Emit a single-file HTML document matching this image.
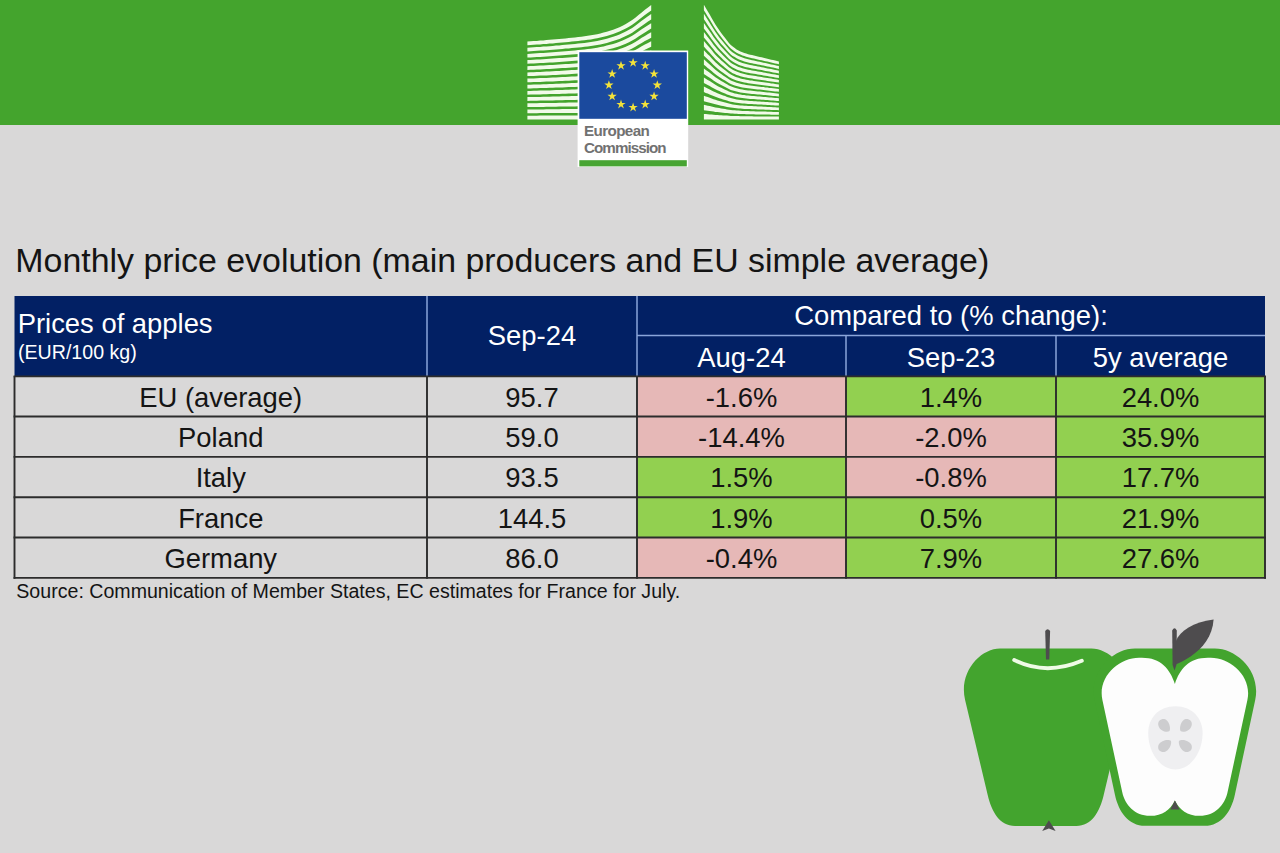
<!DOCTYPE html>
<html><head><meta charset="utf-8">
<style>
*{margin:0;padding:0;box-sizing:border-box}
html,body{width:1280px;height:853px;overflow:hidden;background:#d9d8d8;font-family:"Liberation Sans",sans-serif;color:#111}
.abs{position:absolute}
.t{position:absolute;white-space:nowrap;line-height:1;color:#141414}
</style></head><body>
<div class="abs" style="left:0;top:0;width:1280px;height:124.5px;background:#44a42d"></div>
<svg class="abs" style="left:0;top:0" width="1280" height="170" viewBox="0 0 1280 170">
<g fill="#f2fbe9"><path d="M527.4,41.5 L530.6,41.3 L533.7,41.1 L536.9,40.9 L540.1,40.6 L543.3,40.4 L546.4,40.1 L549.6,39.8 L552.8,39.6 L556.0,39.3 L559.1,39.0 L562.3,38.7 L565.5,38.4 L568.7,38.0 L571.8,37.7 L575.0,37.4 L578.2,37.0 L581.4,36.7 L584.5,36.3 L587.7,35.8 L590.9,35.3 L594.1,34.8 L597.2,34.2 L600.4,33.5 L603.6,32.6 L606.8,31.7 L609.9,30.7 L613.1,29.7 L616.3,28.5 L619.5,27.2 L622.6,25.7 L625.8,24.0 L629.0,22.1 L632.2,20.1 L635.3,17.7 L638.5,15.0 L641.7,12.4 L644.9,9.8 L648.0,7.4 L651.2,5.0 L651.2,10.4 L648.0,12.7 L644.9,15.0 L641.7,17.4 L638.5,20.0 L635.3,22.5 L632.2,24.8 L629.0,26.8 L625.8,28.5 L622.6,30.1 L619.5,31.6 L616.3,32.8 L613.1,33.9 L609.9,35.0 L606.8,35.9 L603.6,36.8 L600.4,37.5 L597.2,38.2 L594.1,38.8 L590.9,39.4 L587.7,39.8 L584.5,40.2 L581.4,40.6 L578.2,41.0 L575.0,41.3 L571.8,41.6 L568.7,41.9 L565.5,42.2 L562.3,42.5 L559.1,42.8 L556.0,43.1 L552.8,43.4 L549.6,43.6 L546.4,43.9 L543.3,44.1 L540.1,44.4 L536.9,44.6 L533.7,44.8 L530.6,45.0 L527.4,45.2Z"/><path d="M527.4,47.7 L530.6,47.5 L533.7,47.3 L536.9,47.1 L540.1,46.9 L543.3,46.6 L546.4,46.4 L549.6,46.2 L552.8,45.9 L556.0,45.6 L559.1,45.4 L562.3,45.1 L565.5,44.8 L568.7,44.5 L571.8,44.2 L575.0,43.9 L578.2,43.6 L581.4,43.2 L584.5,42.9 L587.7,42.5 L590.9,42.0 L594.1,41.5 L597.2,40.9 L600.4,40.3 L603.6,39.5 L606.8,38.7 L609.9,37.8 L613.1,36.8 L616.3,35.7 L619.5,34.5 L622.6,33.1 L625.8,31.5 L629.0,29.8 L632.2,28.0 L635.3,25.7 L638.5,23.3 L641.7,20.8 L644.9,18.5 L648.0,16.3 L651.2,14.1 L651.2,19.5 L648.0,21.6 L644.9,23.7 L641.7,25.9 L638.5,28.3 L635.3,30.6 L632.2,32.7 L629.0,34.5 L625.8,36.1 L622.6,37.6 L619.5,38.9 L616.3,40.1 L613.1,41.1 L609.9,42.0 L606.8,42.9 L603.6,43.7 L600.4,44.4 L597.2,45.0 L594.1,45.6 L590.9,46.0 L587.7,46.4 L584.5,46.8 L581.4,47.2 L578.2,47.5 L575.0,47.8 L571.8,48.1 L568.7,48.4 L565.5,48.6 L562.3,48.9 L559.1,49.2 L556.0,49.4 L552.8,49.7 L549.6,49.9 L546.4,50.2 L543.3,50.4 L540.1,50.6 L536.9,50.8 L533.7,51.0 L530.6,51.2 L527.4,51.4Z"/><path d="M527.4,53.9 L530.6,53.7 L533.7,53.5 L536.9,53.3 L540.1,53.1 L543.3,52.9 L546.4,52.7 L549.6,52.5 L552.8,52.2 L556.0,52.0 L559.1,51.7 L562.3,51.5 L565.5,51.2 L568.7,51.0 L571.8,50.7 L575.0,50.4 L578.2,50.1 L581.4,49.8 L584.5,49.5 L587.7,49.1 L590.9,48.7 L594.1,48.2 L597.2,47.7 L600.4,47.1 L603.6,46.4 L606.8,45.6 L609.9,44.8 L613.1,43.9 L616.3,42.9 L619.5,41.8 L622.6,40.5 L625.8,39.1 L629.0,37.6 L632.2,35.8 L635.3,33.8 L638.5,31.6 L641.7,29.3 L644.9,27.2 L648.0,25.2 L651.2,23.2 L651.2,28.6 L648.0,30.5 L644.9,32.4 L641.7,34.4 L638.5,36.6 L635.3,38.7 L632.2,40.6 L629.0,42.2 L625.8,43.7 L622.6,45.0 L619.5,46.2 L616.3,47.3 L613.1,48.2 L609.9,49.0 L606.8,49.8 L603.6,50.5 L600.4,51.2 L597.2,51.8 L594.1,52.3 L590.9,52.7 L587.7,53.1 L584.5,53.4 L581.4,53.7 L578.2,54.0 L575.0,54.3 L571.8,54.6 L568.7,54.8 L565.5,55.1 L562.3,55.3 L559.1,55.6 L556.0,55.8 L552.8,56.0 L549.6,56.3 L546.4,56.5 L543.3,56.7 L540.1,56.9 L536.9,57.1 L533.7,57.2 L530.6,57.4 L527.4,57.6Z"/><path d="M527.4,60.0 L530.6,59.9 L533.7,59.7 L536.9,59.6 L540.1,59.4 L543.3,59.2 L546.4,59.0 L549.6,58.8 L552.8,58.6 L556.0,58.3 L559.1,58.1 L562.3,57.9 L565.5,57.7 L568.7,57.4 L571.8,57.2 L575.0,56.9 L578.2,56.7 L581.4,56.4 L584.5,56.1 L587.7,55.7 L590.9,55.4 L594.1,55.0 L597.2,54.5 L600.4,53.9 L603.6,53.3 L606.8,52.6 L609.9,51.8 L613.1,51.0 L616.3,50.2 L619.5,49.1 L622.6,48.0 L625.8,46.7 L629.0,45.3 L632.2,43.7 L635.3,41.9 L638.5,39.9 L641.7,37.8 L644.9,35.9 L648.0,34.1 L651.2,32.2 L651.2,37.7 L648.0,39.4 L644.9,41.1 L641.7,42.9 L638.5,44.8 L635.3,46.7 L632.2,48.5 L629.0,49.9 L625.8,51.2 L622.6,52.4 L619.5,53.5 L616.3,54.5 L613.1,55.3 L609.9,56.1 L606.8,56.8 L603.6,57.4 L600.4,58.0 L597.2,58.5 L594.1,59.0 L590.9,59.4 L587.7,59.7 L584.5,60.0 L581.4,60.3 L578.2,60.6 L575.0,60.8 L571.8,61.1 L568.7,61.3 L565.5,61.5 L562.3,61.7 L559.1,62.0 L556.0,62.2 L552.8,62.4 L549.6,62.6 L546.4,62.8 L543.3,63.0 L540.1,63.1 L536.9,63.3 L533.7,63.5 L530.6,63.6 L527.4,63.8Z"/><path d="M527.4,66.2 L530.6,66.1 L533.7,65.9 L536.9,65.8 L540.1,65.6 L543.3,65.5 L546.4,65.3 L549.6,65.1 L552.8,64.9 L556.0,64.7 L559.1,64.5 L562.3,64.3 L565.5,64.1 L568.7,63.9 L571.8,63.7 L575.0,63.4 L578.2,63.2 L581.4,62.9 L584.5,62.7 L587.7,62.4 L590.9,62.0 L594.1,61.7 L597.2,61.2 L600.4,60.7 L603.6,60.2 L606.8,59.6 L609.9,58.9 L613.1,58.2 L616.3,57.4 L619.5,56.5 L622.6,55.4 L625.8,54.3 L629.0,53.0 L632.2,51.6 L635.3,50.0 L638.5,48.2 L641.7,46.3 L644.9,44.6 L648.0,42.9 L651.2,41.3 L651.2,46.8 L648.0,48.3 L644.9,49.8 L641.7,51.4 L638.5,53.1 L635.3,54.8 L632.2,56.3 L629.0,57.6 L625.8,58.8 L622.6,59.9 L619.5,60.9 L616.3,61.7 L613.1,62.4 L609.9,63.1 L606.8,63.7 L603.6,64.3 L600.4,64.8 L597.2,65.3 L594.1,65.7 L590.9,66.0 L587.7,66.3 L584.5,66.6 L581.4,66.9 L578.2,67.1 L575.0,67.3 L571.8,67.5 L568.7,67.7 L565.5,67.9 L562.3,68.1 L559.1,68.3 L556.0,68.5 L552.8,68.7 L549.6,68.9 L546.4,69.1 L543.3,69.2 L540.1,69.4 L536.9,69.5 L533.7,69.7 L530.6,69.8 L527.4,69.9Z"/><path d="M527.4,72.4 L530.6,72.3 L533.7,72.2 L536.9,72.0 L540.1,71.9 L543.3,71.7 L546.4,71.6 L549.6,71.4 L552.8,71.2 L556.0,71.1 L559.1,70.9 L562.3,70.7 L565.5,70.5 L568.7,70.3 L571.8,70.1 L575.0,69.9 L578.2,69.7 L581.4,69.5 L584.5,69.3 L587.7,69.0 L590.9,68.7 L594.1,68.4 L597.2,68.0 L600.4,67.6 L603.6,67.1 L606.8,66.5 L609.9,65.9 L613.1,65.3 L616.3,64.6 L619.5,63.8 L622.6,62.9 L625.8,61.8 L629.0,60.7 L632.2,59.5 L635.3,58.0 L638.5,56.4 L641.7,54.8 L644.9,53.3 L648.0,51.8 L651.2,50.4 L651.2,55.8 L648.0,57.2 L644.9,58.5 L641.7,59.9 L638.5,61.4 L635.3,62.9 L632.2,64.2 L629.0,65.4 L625.8,66.4 L622.6,67.3 L619.5,68.2 L616.3,68.9 L613.1,69.5 L609.9,70.1 L606.8,70.7 L603.6,71.2 L600.4,71.7 L597.2,72.1 L594.1,72.4 L590.9,72.7 L587.7,73.0 L584.5,73.2 L581.4,73.4 L578.2,73.6 L575.0,73.8 L571.8,74.0 L568.7,74.2 L565.5,74.4 L562.3,74.5 L559.1,74.7 L556.0,74.9 L552.8,75.0 L549.6,75.2 L546.4,75.4 L543.3,75.5 L540.1,75.6 L536.9,75.8 L533.7,75.9 L530.6,76.0 L527.4,76.1Z"/><path d="M527.4,78.6 L530.6,78.5 L533.7,78.4 L536.9,78.3 L540.1,78.1 L543.3,78.0 L546.4,77.9 L549.6,77.7 L552.8,77.6 L556.0,77.4 L559.1,77.3 L562.3,77.1 L565.5,76.9 L568.7,76.8 L571.8,76.6 L575.0,76.4 L578.2,76.3 L581.4,76.1 L584.5,75.9 L587.7,75.6 L590.9,75.4 L594.1,75.1 L597.2,74.8 L600.4,74.4 L603.6,74.0 L606.8,73.5 L609.9,73.0 L613.1,72.4 L616.3,71.8 L619.5,71.1 L622.6,70.3 L625.8,69.4 L629.0,68.4 L632.2,67.4 L635.3,66.1 L638.5,64.7 L641.7,63.3 L644.9,62.0 L648.0,60.7 L651.2,59.5 L651.2,64.9 L648.0,66.1 L644.9,67.2 L641.7,68.4 L638.5,69.7 L635.3,71.0 L632.2,72.1 L629.0,73.1 L625.8,74.0 L622.6,74.8 L619.5,75.5 L616.3,76.1 L613.1,76.7 L609.9,77.2 L606.8,77.7 L603.6,78.1 L600.4,78.5 L597.2,78.8 L594.1,79.1 L590.9,79.4 L587.7,79.6 L584.5,79.8 L581.4,80.0 L578.2,80.2 L575.0,80.3 L571.8,80.5 L568.7,80.7 L565.5,80.8 L562.3,81.0 L559.1,81.1 L556.0,81.2 L552.8,81.4 L549.6,81.5 L546.4,81.6 L543.3,81.8 L540.1,81.9 L536.9,82.0 L533.7,82.1 L530.6,82.2 L527.4,82.3Z"/><path d="M527.4,84.8 L530.6,84.7 L533.7,84.6 L536.9,84.5 L540.1,84.4 L543.3,84.3 L546.4,84.2 L549.6,84.0 L552.8,83.9 L556.0,83.8 L559.1,83.7 L562.3,83.5 L565.5,83.4 L568.7,83.2 L571.8,83.1 L575.0,83.0 L578.2,82.8 L581.4,82.6 L584.5,82.5 L587.7,82.3 L590.9,82.0 L594.1,81.8 L597.2,81.5 L600.4,81.2 L603.6,80.8 L606.8,80.4 L609.9,80.0 L613.1,79.5 L616.3,79.0 L619.5,78.4 L622.6,77.7 L625.8,77.0 L629.0,76.2 L632.2,75.3 L635.3,74.2 L638.5,73.0 L641.7,71.8 L644.9,70.7 L648.0,69.6 L651.2,68.6 L651.2,74.0 L648.0,75.0 L644.9,75.9 L641.7,76.9 L638.5,78.0 L635.3,79.0 L632.2,80.0 L629.0,80.8 L625.8,81.5 L622.6,82.2 L619.5,82.8 L616.3,83.3 L613.1,83.8 L609.9,84.2 L606.8,84.6 L603.6,85.0 L600.4,85.3 L597.2,85.6 L594.1,85.8 L590.9,86.0 L587.7,86.2 L584.5,86.4 L581.4,86.6 L578.2,86.7 L575.0,86.9 L571.8,87.0 L568.7,87.1 L565.5,87.2 L562.3,87.4 L559.1,87.5 L556.0,87.6 L552.8,87.7 L549.6,87.8 L546.4,87.9 L543.3,88.0 L540.1,88.1 L536.9,88.2 L533.7,88.3 L530.6,88.4 L527.4,88.5Z"/><path d="M527.4,91.0 L530.6,90.9 L533.7,90.8 L536.9,90.7 L540.1,90.6 L543.3,90.5 L546.4,90.5 L549.6,90.4 L552.8,90.3 L556.0,90.1 L559.1,90.0 L562.3,89.9 L565.5,89.8 L568.7,89.7 L571.8,89.6 L575.0,89.5 L578.2,89.3 L581.4,89.2 L584.5,89.1 L587.7,88.9 L590.9,88.7 L594.1,88.5 L597.2,88.3 L600.4,88.0 L603.6,87.7 L606.8,87.4 L609.9,87.0 L613.1,86.6 L616.3,86.2 L619.5,85.7 L622.6,85.2 L625.8,84.6 L629.0,83.9 L632.2,83.1 L635.3,82.3 L638.5,81.3 L641.7,80.3 L644.9,79.4 L648.0,78.5 L651.2,77.6 L651.2,83.1 L648.0,83.8 L644.9,84.6 L641.7,85.4 L638.5,86.3 L635.3,87.1 L632.2,87.9 L629.0,88.5 L625.8,89.1 L622.6,89.6 L619.5,90.1 L616.3,90.5 L613.1,90.9 L609.9,91.3 L606.8,91.6 L603.6,91.9 L600.4,92.1 L597.2,92.3 L594.1,92.5 L590.9,92.7 L587.7,92.9 L584.5,93.0 L581.4,93.1 L578.2,93.3 L575.0,93.4 L571.8,93.5 L568.7,93.6 L565.5,93.7 L562.3,93.8 L559.1,93.9 L556.0,94.0 L552.8,94.1 L549.6,94.1 L546.4,94.2 L543.3,94.3 L540.1,94.4 L536.9,94.5 L533.7,94.5 L530.6,94.6 L527.4,94.7Z"/><path d="M527.4,97.1 L530.6,97.1 L533.7,97.0 L536.9,97.0 L540.1,96.9 L543.3,96.8 L546.4,96.7 L549.6,96.7 L552.8,96.6 L556.0,96.5 L559.1,96.4 L562.3,96.3 L565.5,96.2 L568.7,96.2 L571.8,96.1 L575.0,96.0 L578.2,95.9 L581.4,95.8 L584.5,95.6 L587.7,95.5 L590.9,95.4 L594.1,95.2 L597.2,95.1 L600.4,94.8 L603.6,94.6 L606.8,94.4 L609.9,94.1 L613.1,93.8 L616.3,93.4 L619.5,93.1 L622.6,92.6 L625.8,92.1 L629.0,91.6 L632.2,91.0 L635.3,90.3 L638.5,89.6 L641.7,88.8 L644.9,88.1 L648.0,87.4 L651.2,86.7 L651.2,92.2 L648.0,92.7 L644.9,93.3 L641.7,93.9 L638.5,94.5 L635.3,95.2 L632.2,95.8 L629.0,96.2 L625.8,96.7 L622.6,97.1 L619.5,97.4 L616.3,97.8 L613.1,98.0 L609.9,98.3 L606.8,98.5 L603.6,98.7 L600.4,98.9 L597.2,99.1 L594.1,99.3 L590.9,99.4 L587.7,99.5 L584.5,99.6 L581.4,99.7 L578.2,99.8 L575.0,99.9 L571.8,100.0 L568.7,100.0 L565.5,100.1 L562.3,100.2 L559.1,100.3 L556.0,100.3 L552.8,100.4 L549.6,100.5 L546.4,100.5 L543.3,100.6 L540.1,100.6 L536.9,100.7 L533.7,100.8 L530.6,100.8 L527.4,100.9Z"/><path d="M527.4,103.3 L530.6,103.3 L533.7,103.2 L536.9,103.2 L540.1,103.1 L543.3,103.1 L546.4,103.0 L549.6,103.0 L552.8,102.9 L556.0,102.9 L559.1,102.8 L562.3,102.7 L565.5,102.7 L568.7,102.6 L571.8,102.5 L575.0,102.5 L578.2,102.4 L581.4,102.3 L584.5,102.2 L587.7,102.2 L590.9,102.1 L594.1,101.9 L597.2,101.8 L600.4,101.7 L603.6,101.5 L606.8,101.3 L609.9,101.1 L613.1,100.9 L616.3,100.6 L619.5,100.4 L622.6,100.1 L625.8,99.7 L629.0,99.3 L632.2,98.9 L635.3,98.4 L638.5,97.9 L641.7,97.3 L644.9,96.8 L648.0,96.3 L651.2,95.8 L651.2,101.2 L648.0,101.6 L644.9,102.0 L641.7,102.4 L638.5,102.8 L635.3,103.3 L632.2,103.6 L629.0,104.0 L625.8,104.3 L622.6,104.5 L619.5,104.8 L616.3,105.0 L613.1,105.2 L609.9,105.3 L606.8,105.5 L603.6,105.6 L600.4,105.8 L597.2,105.9 L594.1,106.0 L590.9,106.1 L587.7,106.1 L584.5,106.2 L581.4,106.3 L578.2,106.3 L575.0,106.4 L571.8,106.4 L568.7,106.5 L565.5,106.5 L562.3,106.6 L559.1,106.6 L556.0,106.7 L552.8,106.7 L549.6,106.8 L546.4,106.8 L543.3,106.9 L540.1,106.9 L536.9,106.9 L533.7,107.0 L530.6,107.0 L527.4,107.0Z"/><path d="M527.4,109.5 L530.6,109.5 L533.7,109.5 L536.9,109.4 L540.1,109.4 L543.3,109.4 L546.4,109.3 L549.6,109.3 L552.8,109.3 L556.0,109.2 L559.1,109.2 L562.3,109.1 L565.5,109.1 L568.7,109.1 L571.8,109.0 L575.0,109.0 L578.2,108.9 L581.4,108.9 L584.5,108.8 L587.7,108.8 L590.9,108.7 L594.1,108.7 L597.2,108.6 L600.4,108.5 L603.6,108.4 L606.8,108.3 L609.9,108.1 L613.1,108.0 L616.3,107.9 L619.5,107.7 L622.6,107.5 L625.8,107.3 L629.0,107.0 L632.2,106.8 L635.3,106.5 L638.5,106.1 L641.7,105.8 L644.9,105.5 L648.0,105.2 L651.2,104.9 L651.2,110.3 L648.0,110.5 L644.9,110.7 L641.7,110.9 L638.5,111.1 L635.3,111.3 L632.2,111.5 L629.0,111.7 L625.8,111.8 L622.6,112.0 L619.5,112.1 L616.3,112.2 L613.1,112.3 L609.9,112.4 L606.8,112.4 L603.6,112.5 L600.4,112.6 L597.2,112.6 L594.1,112.7 L590.9,112.7 L587.7,112.8 L584.5,112.8 L581.4,112.8 L578.2,112.9 L575.0,112.9 L571.8,112.9 L568.7,112.9 L565.5,113.0 L562.3,113.0 L559.1,113.0 L556.0,113.0 L552.8,113.1 L549.6,113.1 L546.4,113.1 L543.3,113.1 L540.1,113.1 L536.9,113.2 L533.7,113.2 L530.6,113.2 L527.4,113.2Z"/><path d="M527.4,115.7 L530.6,115.7 L533.7,115.7 L536.9,115.7 L540.1,115.6 L543.3,115.6 L546.4,115.6 L549.6,115.6 L552.8,115.6 L556.0,115.6 L559.1,115.6 L562.3,115.6 L565.5,115.5 L568.7,115.5 L571.8,115.5 L575.0,115.5 L578.2,115.5 L581.4,115.5 L584.5,115.4 L587.7,115.4 L590.9,115.4 L594.1,115.4 L597.2,115.3 L600.4,115.3 L603.6,115.3 L606.8,115.2 L609.9,115.2 L613.1,115.1 L616.3,115.1 L619.5,115.0 L622.6,114.9 L625.8,114.9 L629.0,114.8 L632.2,114.7 L635.3,114.6 L638.5,114.4 L641.7,114.3 L644.9,114.2 L648.0,114.1 L651.2,114.0 L651.2,119.4 L648.0,119.4 L644.9,119.4 L641.7,119.4 L638.5,119.4 L635.3,119.4 L632.2,119.4 L629.0,119.4 L625.8,119.4 L622.6,119.4 L619.5,119.4 L616.3,119.4 L613.1,119.4 L609.9,119.4 L606.8,119.4 L603.6,119.4 L600.4,119.4 L597.2,119.4 L594.1,119.4 L590.9,119.4 L587.7,119.4 L584.5,119.4 L581.4,119.4 L578.2,119.4 L575.0,119.4 L571.8,119.4 L568.7,119.4 L565.5,119.4 L562.3,119.4 L559.1,119.4 L556.0,119.4 L552.8,119.4 L549.6,119.4 L546.4,119.4 L543.3,119.4 L540.1,119.4 L536.9,119.4 L533.7,119.4 L530.6,119.4 L527.4,119.4Z"/><path d="M703.9,4.7 L705.8,8.0 L707.7,11.2 L709.7,14.5 L711.6,17.9 L713.5,21.3 L715.4,24.6 L717.4,27.5 L719.3,30.3 L721.2,32.9 L723.1,35.5 L725.1,38.0 L727.0,40.5 L728.9,42.9 L730.8,45.0 L732.7,46.6 L734.7,48.1 L736.6,49.4 L738.5,50.5 L740.4,51.4 L742.4,52.2 L744.3,53.0 L746.2,53.6 L748.1,54.2 L750.1,54.7 L752.0,55.1 L753.9,55.6 L755.8,56.0 L757.7,56.4 L759.7,56.9 L761.6,57.3 L763.5,57.8 L765.4,58.3 L767.4,58.7 L769.3,59.2 L771.2,59.7 L773.1,60.1 L775.1,60.6 L777.0,61.0 L778.9,61.5 L778.9,64.3 L777.0,63.8 L775.1,63.4 L773.1,62.9 L771.2,62.5 L769.3,62.1 L767.4,61.6 L765.4,61.2 L763.5,60.7 L761.6,60.3 L759.7,59.9 L757.7,59.4 L755.8,59.0 L753.9,58.6 L752.0,58.2 L750.1,57.8 L748.1,57.3 L746.2,56.7 L744.3,56.1 L742.4,55.4 L740.4,54.6 L738.5,53.7 L736.6,52.7 L734.7,51.5 L732.7,50.1 L730.8,48.5 L728.9,46.5 L727.0,44.3 L725.1,41.9 L723.1,39.5 L721.2,37.1 L719.3,34.6 L717.4,31.9 L715.4,29.1 L713.5,26.0 L711.6,22.7 L709.7,19.5 L707.7,16.4 L705.8,13.3 L703.9,10.2Z"/><path d="M703.9,13.8 L705.8,16.8 L707.7,19.8 L709.7,22.9 L711.6,26.0 L713.5,29.1 L715.4,32.1 L717.4,34.8 L719.3,37.4 L721.2,39.8 L723.1,42.1 L725.1,44.4 L727.0,46.8 L728.9,49.0 L730.8,50.9 L732.7,52.4 L734.7,53.7 L736.6,54.9 L738.5,55.9 L740.4,56.8 L742.4,57.6 L744.3,58.2 L746.2,58.8 L748.1,59.3 L750.1,59.8 L752.0,60.2 L753.9,60.6 L755.8,61.0 L757.7,61.4 L759.7,61.8 L761.6,62.3 L763.5,62.7 L765.4,63.1 L767.4,63.6 L769.3,64.0 L771.2,64.4 L773.1,64.8 L775.1,65.3 L777.0,65.7 L778.9,66.1 L778.9,68.9 L777.0,68.5 L775.1,68.1 L773.1,67.6 L771.2,67.2 L769.3,66.8 L767.4,66.4 L765.4,66.0 L763.5,65.6 L761.6,65.2 L759.7,64.8 L757.7,64.4 L755.8,64.1 L753.9,63.7 L752.0,63.3 L750.1,62.9 L748.1,62.4 L746.2,62.0 L744.3,61.4 L742.4,60.8 L740.4,60.0 L738.5,59.2 L736.6,58.3 L734.7,57.1 L732.7,55.9 L730.8,54.4 L728.9,52.6 L727.0,50.5 L725.1,48.3 L723.1,46.1 L721.2,43.9 L719.3,41.6 L717.4,39.2 L715.4,36.6 L713.5,33.8 L711.6,30.8 L709.7,27.9 L707.7,25.0 L705.8,22.1 L703.9,19.3Z"/><path d="M703.9,22.9 L705.8,25.7 L707.7,28.4 L709.7,31.2 L711.6,34.0 L713.5,36.9 L715.4,39.6 L717.4,42.1 L719.3,44.5 L721.2,46.7 L723.1,48.8 L725.1,50.9 L727.0,53.0 L728.9,55.0 L730.8,56.8 L732.7,58.2 L734.7,59.4 L736.6,60.5 L738.5,61.4 L740.4,62.2 L742.4,62.9 L744.3,63.5 L746.2,64.0 L748.1,64.5 L750.1,64.9 L752.0,65.3 L753.9,65.7 L755.8,66.1 L757.7,66.4 L759.7,66.8 L761.6,67.2 L763.5,67.6 L765.4,68.0 L767.4,68.4 L769.3,68.8 L771.2,69.1 L773.1,69.5 L775.1,69.9 L777.0,70.3 L778.9,70.7 L778.9,73.4 L777.0,73.1 L775.1,72.7 L773.1,72.4 L771.2,72.0 L769.3,71.6 L767.4,71.3 L765.4,70.9 L763.5,70.5 L761.6,70.1 L759.7,69.8 L757.7,69.4 L755.8,69.1 L753.9,68.8 L752.0,68.4 L750.1,68.0 L748.1,67.6 L746.2,67.2 L744.3,66.7 L742.4,66.1 L740.4,65.4 L738.5,64.7 L736.6,63.8 L734.7,62.8 L732.7,61.6 L730.8,60.3 L728.9,58.7 L727.0,56.8 L725.1,54.8 L723.1,52.8 L721.2,50.8 L719.3,48.7 L717.4,46.5 L715.4,44.1 L713.5,41.5 L711.6,38.9 L709.7,36.2 L707.7,33.6 L705.8,31.0 L703.9,28.4Z"/><path d="M703.9,32.0 L705.8,34.5 L707.7,37.0 L709.7,39.5 L711.6,42.1 L713.5,44.7 L715.4,47.1 L717.4,49.4 L719.3,51.5 L721.2,53.5 L723.1,55.5 L725.1,57.4 L727.0,59.3 L728.9,61.1 L730.8,62.7 L732.7,64.0 L734.7,65.1 L736.6,66.0 L738.5,66.9 L740.4,67.6 L742.4,68.2 L744.3,68.8 L746.2,69.3 L748.1,69.7 L750.1,70.1 L752.0,70.4 L753.9,70.8 L755.8,71.1 L757.7,71.4 L759.7,71.8 L761.6,72.1 L763.5,72.5 L765.4,72.8 L767.4,73.2 L769.3,73.5 L771.2,73.9 L773.1,74.2 L775.1,74.6 L777.0,74.9 L778.9,75.3 L778.9,78.0 L777.0,77.7 L775.1,77.4 L773.1,77.1 L771.2,76.7 L769.3,76.4 L767.4,76.1 L765.4,75.7 L763.5,75.4 L761.6,75.1 L759.7,74.7 L757.7,74.4 L755.8,74.1 L753.9,73.8 L752.0,73.5 L750.1,73.2 L748.1,72.8 L746.2,72.4 L744.3,71.9 L742.4,71.4 L740.4,70.8 L738.5,70.2 L736.6,69.4 L734.7,68.5 L732.7,67.4 L730.8,66.2 L728.9,64.8 L727.0,63.0 L725.1,61.2 L723.1,59.5 L721.2,57.6 L719.3,55.8 L717.4,53.8 L715.4,51.7 L713.5,49.3 L711.6,46.9 L709.7,44.5 L707.7,42.1 L705.8,39.8 L703.9,37.5Z"/><path d="M703.9,41.1 L705.8,43.3 L707.7,45.6 L709.7,47.8 L711.6,50.1 L713.5,52.4 L715.4,54.7 L717.4,56.7 L719.3,58.6 L721.2,60.4 L723.1,62.1 L725.1,63.8 L727.0,65.5 L728.9,67.2 L730.8,68.6 L732.7,69.7 L734.7,70.7 L736.6,71.6 L738.5,72.3 L740.4,73.0 L742.4,73.6 L744.3,74.1 L746.2,74.5 L748.1,74.9 L750.1,75.2 L752.0,75.5 L753.9,75.8 L755.8,76.1 L757.7,76.4 L759.7,76.7 L761.6,77.0 L763.5,77.4 L765.4,77.7 L767.4,78.0 L769.3,78.3 L771.2,78.6 L773.1,78.9 L775.1,79.3 L777.0,79.6 L778.9,79.9 L778.9,82.6 L777.0,82.3 L775.1,82.1 L773.1,81.8 L771.2,81.5 L769.3,81.2 L767.4,80.9 L765.4,80.6 L763.5,80.3 L761.6,80.0 L759.7,79.7 L757.7,79.4 L755.8,79.2 L753.9,78.9 L752.0,78.6 L750.1,78.3 L748.1,78.0 L746.2,77.6 L744.3,77.2 L742.4,76.8 L740.4,76.2 L738.5,75.6 L736.6,74.9 L734.7,74.1 L732.7,73.2 L730.8,72.1 L728.9,70.8 L727.0,69.3 L725.1,67.7 L723.1,66.1 L721.2,64.5 L719.3,62.8 L717.4,61.1 L715.4,59.2 L713.5,57.1 L711.6,55.0 L709.7,52.8 L707.7,50.7 L705.8,48.7 L703.9,46.6Z"/><path d="M703.9,50.2 L705.8,52.2 L707.7,54.2 L709.7,56.1 L711.6,58.2 L713.5,60.2 L715.4,62.2 L717.4,64.0 L719.3,65.7 L721.2,67.3 L723.1,68.8 L725.1,70.3 L727.0,71.8 L728.9,73.3 L730.8,74.5 L732.7,75.5 L734.7,76.4 L736.6,77.2 L738.5,77.8 L740.4,78.4 L742.4,78.9 L744.3,79.3 L746.2,79.7 L748.1,80.0 L750.1,80.4 L752.0,80.6 L753.9,80.9 L755.8,81.2 L757.7,81.4 L759.7,81.7 L761.6,82.0 L763.5,82.2 L765.4,82.5 L767.4,82.8 L769.3,83.1 L771.2,83.4 L773.1,83.6 L775.1,83.9 L777.0,84.2 L778.9,84.5 L778.9,87.2 L777.0,87.0 L775.1,86.7 L773.1,86.5 L771.2,86.2 L769.3,86.0 L767.4,85.7 L765.4,85.4 L763.5,85.2 L761.6,84.9 L759.7,84.7 L757.7,84.4 L755.8,84.2 L753.9,83.9 L752.0,83.7 L750.1,83.4 L748.1,83.2 L746.2,82.8 L744.3,82.5 L742.4,82.1 L740.4,81.6 L738.5,81.1 L736.6,80.5 L734.7,79.8 L732.7,79.0 L730.8,78.0 L728.9,76.9 L727.0,75.6 L725.1,74.2 L723.1,72.8 L721.2,71.4 L719.3,69.9 L717.4,68.4 L715.4,66.7 L713.5,64.9 L711.6,63.0 L709.7,61.1 L707.7,59.3 L705.8,57.5 L703.9,55.7Z"/><path d="M703.9,59.3 L705.8,61.0 L707.7,62.7 L709.7,64.5 L711.6,66.2 L713.5,68.0 L715.4,69.7 L717.4,71.3 L719.3,72.7 L721.2,74.1 L723.1,75.4 L725.1,76.7 L727.0,78.1 L728.9,79.3 L730.8,80.4 L732.7,81.3 L734.7,82.0 L736.6,82.7 L738.5,83.3 L740.4,83.8 L742.4,84.2 L744.3,84.6 L746.2,84.9 L748.1,85.2 L750.1,85.5 L752.0,85.7 L753.9,86.0 L755.8,86.2 L757.7,86.4 L759.7,86.7 L761.6,86.9 L763.5,87.1 L765.4,87.4 L767.4,87.6 L769.3,87.9 L771.2,88.1 L773.1,88.3 L775.1,88.6 L777.0,88.8 L778.9,89.1 L778.9,91.8 L777.0,91.6 L775.1,91.4 L773.1,91.2 L771.2,91.0 L769.3,90.7 L767.4,90.5 L765.4,90.3 L763.5,90.1 L761.6,89.8 L759.7,89.6 L757.7,89.4 L755.8,89.2 L753.9,89.0 L752.0,88.8 L750.1,88.6 L748.1,88.3 L746.2,88.1 L744.3,87.8 L742.4,87.4 L740.4,87.0 L738.5,86.6 L736.6,86.0 L734.7,85.4 L732.7,84.7 L730.8,84.0 L728.9,83.0 L727.0,81.8 L725.1,80.6 L723.1,79.4 L721.2,78.2 L719.3,77.0 L717.4,75.7 L715.4,74.2 L713.5,72.7 L711.6,71.1 L709.7,69.5 L707.7,67.9 L705.8,66.3 L703.9,64.8Z"/><path d="M703.9,68.4 L705.8,69.9 L707.7,71.3 L709.7,72.8 L711.6,74.3 L713.5,75.8 L715.4,77.2 L717.4,78.6 L719.3,79.8 L721.2,81.0 L723.1,82.1 L725.1,83.2 L727.0,84.3 L728.9,85.4 L730.8,86.3 L732.7,87.1 L734.7,87.7 L736.6,88.3 L738.5,88.8 L740.4,89.2 L742.4,89.5 L744.3,89.9 L746.2,90.2 L748.1,90.4 L750.1,90.6 L752.0,90.8 L753.9,91.0 L755.8,91.2 L757.7,91.4 L759.7,91.6 L761.6,91.8 L763.5,92.0 L765.4,92.2 L767.4,92.4 L769.3,92.6 L771.2,92.8 L773.1,93.1 L775.1,93.3 L777.0,93.5 L778.9,93.7 L778.9,96.4 L777.0,96.2 L775.1,96.1 L773.1,95.9 L771.2,95.7 L769.3,95.5 L767.4,95.3 L765.4,95.1 L763.5,95.0 L761.6,94.8 L759.7,94.6 L757.7,94.4 L755.8,94.2 L753.9,94.1 L752.0,93.9 L750.1,93.7 L748.1,93.5 L746.2,93.3 L744.3,93.0 L742.4,92.7 L740.4,92.4 L738.5,92.0 L736.6,91.6 L734.7,91.1 L732.7,90.5 L730.8,89.9 L728.9,89.0 L727.0,88.1 L725.1,87.1 L723.1,86.1 L721.2,85.1 L719.3,84.1 L717.4,83.0 L715.4,81.8 L713.5,80.5 L711.6,79.1 L709.7,77.8 L707.7,76.5 L705.8,75.2 L703.9,73.9Z"/><path d="M703.9,77.5 L705.8,78.7 L707.7,79.9 L709.7,81.1 L711.6,82.3 L713.5,83.6 L715.4,84.8 L717.4,85.9 L719.3,86.9 L721.2,87.8 L723.1,88.8 L725.1,89.7 L727.0,90.6 L728.9,91.5 L730.8,92.2 L732.7,92.8 L734.7,93.4 L736.6,93.8 L738.5,94.2 L740.4,94.6 L742.4,94.9 L744.3,95.1 L746.2,95.4 L748.1,95.6 L750.1,95.8 L752.0,95.9 L753.9,96.1 L755.8,96.3 L757.7,96.4 L759.7,96.6 L761.6,96.7 L763.5,96.9 L765.4,97.1 L767.4,97.3 L769.3,97.4 L771.2,97.6 L773.1,97.8 L775.1,97.9 L777.0,98.1 L778.9,98.3 L778.9,101.0 L777.0,100.9 L775.1,100.7 L773.1,100.6 L771.2,100.4 L769.3,100.3 L767.4,100.1 L765.4,100.0 L763.5,99.8 L761.6,99.7 L759.7,99.6 L757.7,99.4 L755.8,99.3 L753.9,99.1 L752.0,99.0 L750.1,98.9 L748.1,98.7 L746.2,98.5 L744.3,98.3 L742.4,98.1 L740.4,97.8 L738.5,97.5 L736.6,97.2 L734.7,96.8 L732.7,96.3 L730.8,95.8 L728.9,95.1 L727.0,94.4 L725.1,93.6 L723.1,92.8 L721.2,92.0 L719.3,91.1 L717.4,90.2 L715.4,89.3 L713.5,88.3 L711.6,87.2 L709.7,86.1 L707.7,85.1 L705.8,84.0 L703.9,83.0Z"/><path d="M703.9,86.6 L705.8,87.6 L707.7,88.5 L709.7,89.4 L711.6,90.4 L713.5,91.4 L715.4,92.3 L717.4,93.2 L719.3,93.9 L721.2,94.7 L723.1,95.4 L725.1,96.1 L727.0,96.9 L728.9,97.5 L730.8,98.1 L732.7,98.6 L734.7,99.0 L736.6,99.4 L738.5,99.7 L740.4,100.0 L742.4,100.2 L744.3,100.4 L746.2,100.6 L748.1,100.8 L750.1,100.9 L752.0,101.0 L753.9,101.2 L755.8,101.3 L757.7,101.4 L759.7,101.5 L761.6,101.7 L763.5,101.8 L765.4,101.9 L767.4,102.1 L769.3,102.2 L771.2,102.3 L773.1,102.5 L775.1,102.6 L777.0,102.7 L778.9,102.9 L778.9,105.6 L777.0,105.5 L775.1,105.4 L773.1,105.3 L771.2,105.2 L769.3,105.1 L767.4,105.0 L765.4,104.8 L763.5,104.7 L761.6,104.6 L759.7,104.5 L757.7,104.4 L755.8,104.3 L753.9,104.2 L752.0,104.1 L750.1,104.0 L748.1,103.9 L746.2,103.7 L744.3,103.6 L742.4,103.4 L740.4,103.2 L738.5,103.0 L736.6,102.7 L734.7,102.4 L732.7,102.1 L730.8,101.7 L728.9,101.2 L727.0,100.6 L725.1,100.0 L723.1,99.4 L721.2,98.8 L719.3,98.2 L717.4,97.5 L715.4,96.8 L713.5,96.0 L711.6,95.2 L709.7,94.4 L707.7,93.6 L705.8,92.9 L703.9,92.1Z"/><path d="M703.9,95.7 L705.8,96.4 L707.7,97.1 L709.7,97.8 L711.6,98.5 L713.5,99.2 L715.4,99.8 L717.4,100.4 L719.3,101.0 L721.2,101.6 L723.1,102.1 L725.1,102.6 L727.0,103.1 L728.9,103.6 L730.8,104.0 L732.7,104.4 L734.7,104.7 L736.6,104.9 L738.5,105.2 L740.4,105.4 L742.4,105.5 L744.3,105.7 L746.2,105.8 L748.1,105.9 L750.1,106.0 L752.0,106.1 L753.9,106.2 L755.8,106.3 L757.7,106.4 L759.7,106.5 L761.6,106.6 L763.5,106.7 L765.4,106.8 L767.4,106.9 L769.3,107.0 L771.2,107.1 L773.1,107.2 L775.1,107.3 L777.0,107.4 L778.9,107.5 L778.9,110.2 L777.0,110.1 L775.1,110.1 L773.1,110.0 L771.2,109.9 L769.3,109.8 L767.4,109.8 L765.4,109.7 L763.5,109.6 L761.6,109.5 L759.7,109.5 L757.7,109.4 L755.8,109.3 L753.9,109.3 L752.0,109.2 L750.1,109.1 L748.1,109.0 L746.2,109.0 L744.3,108.9 L742.4,108.7 L740.4,108.6 L738.5,108.5 L736.6,108.3 L734.7,108.1 L732.7,107.8 L730.8,107.6 L728.9,107.3 L727.0,106.9 L725.1,106.5 L723.1,106.1 L721.2,105.7 L719.3,105.3 L717.4,104.8 L715.4,104.3 L713.5,103.8 L711.6,103.3 L709.7,102.8 L707.7,102.2 L705.8,101.7 L703.9,101.2Z"/><path d="M703.9,104.8 L705.8,105.3 L707.7,105.7 L709.7,106.1 L711.6,106.5 L713.5,106.9 L715.4,107.4 L717.4,107.7 L719.3,108.1 L721.2,108.4 L723.1,108.7 L725.1,109.1 L727.0,109.4 L728.9,109.7 L730.8,109.9 L732.7,110.2 L734.7,110.3 L736.6,110.5 L738.5,110.6 L740.4,110.8 L742.4,110.9 L744.3,111.0 L746.2,111.0 L748.1,111.1 L750.1,111.2 L752.0,111.2 L753.9,111.3 L755.8,111.4 L757.7,111.4 L759.7,111.5 L761.6,111.5 L763.5,111.6 L765.4,111.6 L767.4,111.7 L769.3,111.8 L771.2,111.8 L773.1,111.9 L775.1,111.9 L777.0,112.0 L778.9,112.0 L778.9,114.8 L777.0,114.8 L775.1,114.7 L773.1,114.7 L771.2,114.7 L769.3,114.6 L767.4,114.6 L765.4,114.5 L763.5,114.5 L761.6,114.5 L759.7,114.4 L757.7,114.4 L755.8,114.4 L753.9,114.3 L752.0,114.3 L750.1,114.3 L748.1,114.2 L746.2,114.2 L744.3,114.1 L742.4,114.1 L740.4,114.0 L738.5,113.9 L736.6,113.8 L734.7,113.7 L732.7,113.6 L730.8,113.5 L728.9,113.3 L727.0,113.1 L725.1,112.9 L723.1,112.7 L721.2,112.5 L719.3,112.3 L717.4,112.1 L715.4,111.9 L713.5,111.6 L711.6,111.3 L709.7,111.1 L707.7,110.8 L705.8,110.6 L703.9,110.3Z"/><path d="M703.9,113.9 L705.8,114.1 L707.7,114.2 L709.7,114.4 L711.6,114.6 L713.5,114.7 L715.4,114.9 L717.4,115.0 L719.3,115.2 L721.2,115.3 L723.1,115.4 L725.1,115.5 L727.0,115.6 L728.9,115.8 L730.8,115.9 L732.7,115.9 L734.7,116.0 L736.6,116.1 L738.5,116.1 L740.4,116.2 L742.4,116.2 L744.3,116.2 L746.2,116.3 L748.1,116.3 L750.1,116.3 L752.0,116.3 L753.9,116.4 L755.8,116.4 L757.7,116.4 L759.7,116.4 L761.6,116.4 L763.5,116.5 L765.4,116.5 L767.4,116.5 L769.3,116.5 L771.2,116.6 L773.1,116.6 L775.1,116.6 L777.0,116.6 L778.9,116.6 L778.9,119.4 L777.0,119.4 L775.1,119.4 L773.1,119.4 L771.2,119.4 L769.3,119.4 L767.4,119.4 L765.4,119.4 L763.5,119.4 L761.6,119.4 L759.7,119.4 L757.7,119.4 L755.8,119.4 L753.9,119.4 L752.0,119.4 L750.1,119.4 L748.1,119.4 L746.2,119.4 L744.3,119.4 L742.4,119.4 L740.4,119.4 L738.5,119.4 L736.6,119.4 L734.7,119.4 L732.7,119.4 L730.8,119.4 L728.9,119.4 L727.0,119.4 L725.1,119.4 L723.1,119.4 L721.2,119.4 L719.3,119.4 L717.4,119.4 L715.4,119.4 L713.5,119.4 L711.6,119.4 L709.7,119.4 L707.7,119.4 L705.8,119.4 L703.9,119.4Z"/></g>
<rect x="577.6" y="50.5" width="110.6" height="116.5" fill="#ffffff"/>
<rect x="579.3" y="52.2" width="107.5" height="66.6" fill="#1b4a9e"/>
<g fill="#f3e23a"><path d="M633.10,57.80 L634.20,61.19 L637.76,61.19 L634.88,63.28 L635.98,66.66 L633.10,64.57 L630.22,66.66 L631.32,63.28 L628.44,61.19 L632.00,61.19Z"/><path d="M645.20,60.80 L646.30,64.19 L649.86,64.19 L646.98,66.28 L648.08,69.67 L645.20,67.57 L642.32,69.67 L643.42,66.28 L640.54,64.19 L644.10,64.19Z"/><path d="M654.06,69.00 L655.16,72.39 L658.72,72.39 L655.84,74.48 L656.94,77.86 L654.06,75.77 L651.18,77.86 L652.28,74.48 L649.40,72.39 L652.96,72.39Z"/><path d="M657.30,80.20 L658.40,83.59 L661.96,83.59 L659.08,85.68 L660.18,89.06 L657.30,86.97 L654.42,89.06 L655.52,85.68 L652.64,83.59 L656.20,83.59Z"/><path d="M654.06,91.40 L655.16,94.79 L658.72,94.79 L655.84,96.88 L656.94,100.26 L654.06,98.17 L651.18,100.26 L652.28,96.88 L649.40,94.79 L652.96,94.79Z"/><path d="M645.20,99.60 L646.30,102.98 L649.86,102.98 L646.98,105.08 L648.08,108.46 L645.20,106.37 L642.32,108.46 L643.42,105.08 L640.54,102.98 L644.10,102.98Z"/><path d="M633.10,102.60 L634.20,105.99 L637.76,105.99 L634.88,108.08 L635.98,111.46 L633.10,109.37 L630.22,111.46 L631.32,108.08 L628.44,105.99 L632.00,105.99Z"/><path d="M621.00,99.60 L622.10,102.98 L625.66,102.98 L622.78,105.08 L623.88,108.46 L621.00,106.37 L618.12,108.46 L619.22,105.08 L616.34,102.98 L619.90,102.98Z"/><path d="M612.14,91.40 L613.24,94.79 L616.80,94.79 L613.92,96.88 L615.02,100.26 L612.14,98.17 L609.26,100.26 L610.36,96.88 L607.48,94.79 L611.04,94.79Z"/><path d="M608.90,80.20 L610.00,83.59 L613.56,83.59 L610.68,85.68 L611.78,89.06 L608.90,86.97 L606.02,89.06 L607.12,85.68 L604.24,83.59 L607.80,83.59Z"/><path d="M612.14,69.00 L613.24,72.39 L616.80,72.39 L613.92,74.48 L615.02,77.86 L612.14,75.77 L609.26,77.86 L610.36,74.48 L607.48,72.39 L611.04,72.39Z"/><path d="M621.00,60.80 L622.10,64.19 L625.66,64.19 L622.78,66.28 L623.88,69.67 L621.00,67.57 L618.12,69.67 L619.22,66.28 L616.34,64.19 L619.90,64.19Z"/></g>
<rect x="579.3" y="160.2" width="107.5" height="6.2" fill="#47a432"/>
</svg>
<div class="t" style="left:584px;top:122.6px;font-size:15.2px;font-weight:bold;color:#717171;letter-spacing:-0.6px">European</div>
<div class="t" style="left:584px;top:140.3px;font-size:15.2px;font-weight:bold;color:#717171;letter-spacing:-0.95px">Commission</div>

<div class="t" style="left:15.3px;top:244.2px;font-size:33.9px">Monthly price evolution (main producers and EU simple average)</div>

<svg class="abs" style="left:0;top:0" width="1280" height="400" viewBox="0 0 1280 400">
<rect x="14.5" y="296" width="1250.5" height="80.39999999999998" fill="#022064"/>
<g stroke="#8aa5da" stroke-width="1.5">
<line x1="427" y1="296" x2="427" y2="376.4"/>
<line x1="637" y1="296" x2="637" y2="376.4"/>
<line x1="846" y1="335.6" x2="846" y2="376.4"/>
<line x1="1056" y1="335.6" x2="1056" y2="376.4"/>
<line x1="637" y1="335.6" x2="1265" y2="335.6"/>
</g>
</svg>
<div class="t" style="left:17.7px;top:310.1px;font-size:27.4px;color:#fff">Prices of apples</div>
<div class="t" style="left:18px;top:343.4px;font-size:19.6px;color:#fff">(EUR/100 kg)</div>
<div class="t" style="left:427px;top:322.3px;width:210px;text-align:center;font-size:27.4px;color:#fff">Sep-24</div>
<div class="t" style="left:637px;top:301.8px;width:628px;text-align:center;font-size:27.4px;color:#fff">Compared to (% change):</div>
<div class="t" style="left:637px;top:343.5px;width:209px;text-align:center;font-size:27.4px;color:#fff">Aug-24</div>
<div class="t" style="left:846px;top:343.5px;width:210px;text-align:center;font-size:27.4px;color:#fff">Sep-23</div>
<div class="t" style="left:1056px;top:343.5px;width:209px;text-align:center;font-size:27.4px;color:#fff">5y average</div>

<svg class="abs" style="left:0;top:0" width="1280" height="853" viewBox="0 0 1280 853"><rect x="637" y="376.4" width="209.00" height="40.10" fill="#e6b8b7"/><rect x="846" y="376.4" width="210.00" height="40.10" fill="#92d050"/><rect x="1056" y="376.4" width="209.00" height="40.10" fill="#92d050"/><rect x="637" y="416.5" width="209.00" height="40.40" fill="#e6b8b7"/><rect x="846" y="416.5" width="210.00" height="40.40" fill="#e6b8b7"/><rect x="1056" y="416.5" width="209.00" height="40.40" fill="#92d050"/><rect x="637" y="456.9" width="209.00" height="40.40" fill="#92d050"/><rect x="846" y="456.9" width="210.00" height="40.40" fill="#e6b8b7"/><rect x="1056" y="456.9" width="209.00" height="40.40" fill="#92d050"/><rect x="637" y="497.3" width="209.00" height="40.20" fill="#92d050"/><rect x="846" y="497.3" width="210.00" height="40.20" fill="#92d050"/><rect x="1056" y="497.3" width="209.00" height="40.20" fill="#92d050"/><rect x="637" y="537.5" width="209.00" height="40.40" fill="#e6b8b7"/><rect x="846" y="537.5" width="210.00" height="40.40" fill="#92d050"/><rect x="1056" y="537.5" width="209.00" height="40.40" fill="#92d050"/><line x1="13.55" y1="376.4" x2="1265.95" y2="376.4" stroke="#2c2c2c" stroke-width="1.9"/><line x1="13.55" y1="416.5" x2="1265.95" y2="416.5" stroke="#2c2c2c" stroke-width="1.9"/><line x1="13.55" y1="456.9" x2="1265.95" y2="456.9" stroke="#2c2c2c" stroke-width="1.9"/><line x1="13.55" y1="497.3" x2="1265.95" y2="497.3" stroke="#2c2c2c" stroke-width="1.9"/><line x1="13.55" y1="537.5" x2="1265.95" y2="537.5" stroke="#2c2c2c" stroke-width="1.9"/><line x1="13.55" y1="577.9" x2="1265.95" y2="577.9" stroke="#2c2c2c" stroke-width="1.9"/><line x1="14.5" y1="376.4" x2="14.5" y2="578.85" stroke="#2c2c2c" stroke-width="1.9"/><line x1="427" y1="376.4" x2="427" y2="578.85" stroke="#2c2c2c" stroke-width="1.9"/><line x1="637" y1="376.4" x2="637" y2="578.85" stroke="#2c2c2c" stroke-width="1.9"/><line x1="846" y1="376.4" x2="846" y2="578.85" stroke="#2c2c2c" stroke-width="1.9"/><line x1="1056" y1="376.4" x2="1056" y2="578.85" stroke="#2c2c2c" stroke-width="1.9"/><line x1="1265" y1="376.4" x2="1265" y2="578.85" stroke="#2c2c2c" stroke-width="1.9"/></svg>
<div class="t" style="left:14.5px;top:383.9px;width:412.5px;text-align:center;font-size:27.4px">EU (average)</div>
<div class="t" style="left:427px;top:383.9px;width:210px;text-align:center;font-size:27.4px">95.7</div>
<div class="t" style="left:637px;top:383.9px;width:209px;text-align:center;font-size:27.4px">-1.6%</div>
<div class="t" style="left:846px;top:383.9px;width:210px;text-align:center;font-size:27.4px">1.4%</div>
<div class="t" style="left:1056px;top:383.9px;width:209px;text-align:center;font-size:27.4px">24.0%</div>
<div class="t" style="left:14.5px;top:424.0px;width:412.5px;text-align:center;font-size:27.4px">Poland</div>
<div class="t" style="left:427px;top:424.0px;width:210px;text-align:center;font-size:27.4px">59.0</div>
<div class="t" style="left:637px;top:424.0px;width:209px;text-align:center;font-size:27.4px">-14.4%</div>
<div class="t" style="left:846px;top:424.0px;width:210px;text-align:center;font-size:27.4px">-2.0%</div>
<div class="t" style="left:1056px;top:424.0px;width:209px;text-align:center;font-size:27.4px">35.9%</div>
<div class="t" style="left:14.5px;top:464.4px;width:412.5px;text-align:center;font-size:27.4px">Italy</div>
<div class="t" style="left:427px;top:464.4px;width:210px;text-align:center;font-size:27.4px">93.5</div>
<div class="t" style="left:637px;top:464.4px;width:209px;text-align:center;font-size:27.4px">1.5%</div>
<div class="t" style="left:846px;top:464.4px;width:210px;text-align:center;font-size:27.4px">-0.8%</div>
<div class="t" style="left:1056px;top:464.4px;width:209px;text-align:center;font-size:27.4px">17.7%</div>
<div class="t" style="left:14.5px;top:504.8px;width:412.5px;text-align:center;font-size:27.4px">France</div>
<div class="t" style="left:427px;top:504.8px;width:210px;text-align:center;font-size:27.4px">144.5</div>
<div class="t" style="left:637px;top:504.8px;width:209px;text-align:center;font-size:27.4px">1.9%</div>
<div class="t" style="left:846px;top:504.8px;width:210px;text-align:center;font-size:27.4px">0.5%</div>
<div class="t" style="left:1056px;top:504.8px;width:209px;text-align:center;font-size:27.4px">21.9%</div>
<div class="t" style="left:14.5px;top:545.0px;width:412.5px;text-align:center;font-size:27.4px">Germany</div>
<div class="t" style="left:427px;top:545.0px;width:210px;text-align:center;font-size:27.4px">86.0</div>
<div class="t" style="left:637px;top:545.0px;width:209px;text-align:center;font-size:27.4px">-0.4%</div>
<div class="t" style="left:846px;top:545.0px;width:210px;text-align:center;font-size:27.4px">7.9%</div>
<div class="t" style="left:1056px;top:545.0px;width:209px;text-align:center;font-size:27.4px">27.6%</div>
<div class="t" style="left:16.3px;top:581.8px;font-size:19.6px">Source: Communication of Member States, EC estimates for France for July.</div>
<svg class="abs" style="left:0;top:0" width="1280" height="853" viewBox="0 0 1280 853">
<path d="M1000.0,648.5 L1091.4,648.5 C1110.6,648.5 1133.0,671.7 1126.3,700.0 L1103.7,795.0 C1099.7,812.0 1091.4,826.0 1076.4,826.0 L1015.0,826.0 C1000.0,826.0 991.7,812.0 987.7,795.0 L965.1,700.0 C958.4,671.7 980.8,648.5 1000.0,648.5Z" fill="#43a42e"/>
<path d="M1135.0,648.5 L1214.8,648.5 C1237.0,648.5 1261.3,671.7 1255.2,700.0 L1234.8,795.0 C1231.1,811.9 1221.3,825.8 1204.8,825.8 L1145.0,825.8 C1128.5,825.8 1118.7,811.9 1115.0,795.0 L1094.6,700.0 C1088.5,671.7 1112.8,648.5 1135.0,648.5Z" fill="#43a42e"/>
<path d="M1174.9,683.9 C1179.9,668.9 1188.9,657.8 1207.9,657.8 L1210.8,657.8 C1230.9,657.8 1252.4,676.8 1247.4,700.0 L1227.6,792.0 C1224.8,805.1 1215.1,815.8 1199.8,815.8 L1199.9,815.8 C1186.9,815.8 1179.9,809.9 1174.9,800.4 C1169.9,809.9 1162.9,815.8 1149.9,815.8 L1150.0,815.8 C1134.7,815.8 1125.0,805.1 1122.2,792.0 L1102.4,700.0 C1097.4,676.8 1118.9,657.8 1139.0,657.8 L1141.9,657.8 C1160.9,657.8 1169.9,668.9 1174.9,683.9Z" fill="#fdfdfd"/>
<path d="M1175.4,706.2 C1192,706.2 1202.6,718 1202.6,733 C1202.6,753 1190,769.5 1175.4,769.5 C1160.8,769.5 1148.2,753 1148.2,733 C1148.2,718 1158.8,706.2 1175.4,706.2Z" fill="#efeff1"/>
<g fill="#cdcdcf">
<path d="M1169.5,731 C1167,733 1160,731 1158.5,726 C1157,721 1161,718.5 1164.5,719 C1169,720 1171,728 1169.5,731Z"/>
<path d="M1180.5,731 C1183,733 1190,731 1191.5,726 C1193,721 1189,718.5 1185.5,719 C1181,720 1179,728 1180.5,731Z"/>
<path d="M1171,741 C1169,739 1161,740 1158.5,745 C1157,750 1160.5,752.5 1164.5,752 C1169,751 1172,744 1171,741Z"/>
<path d="M1179,741 C1181,739 1189,740 1191.5,745 C1193,750 1189.5,752.5 1185.5,752 C1181,751 1178,744 1179,741Z"/>
</g>
<path d="M1174.9,800.4 L1170.3,809.6 L1179.5,809.6Z" fill="#4e4c4e"/>
<path d="M1048.9,820.2 L1042.2,831 L1048.9,828.6 L1055.6,831Z" fill="#4e4c4e"/>
<path d="M1045.2,631 Q1047.6,627.5 1050.1,631 L1049.3,659.5 L1046,659.5Z" fill="#4e4c4e"/>
<path d="M1014.2,660.1 Q1046,676 1081.8,660.8" fill="none" stroke="#effbe6" stroke-width="3.9" stroke-linecap="round"/>
<path d="M1172.2,630.5 Q1174.5,626 1176.8,630.5 L1176.4,665 L1174.5,670.5 L1172.6,665Z" fill="#4e4c4e"/>
<path d="M1175.6,664.5 L1175.9,641 C1180,631 1193,622 1213.6,619.5 C1212.5,636 1203,648 1190.6,656.4 C1185,660 1180,662.5 1175.6,664.5Z" fill="#4e4c4e"/>
</svg>
</body></html>
